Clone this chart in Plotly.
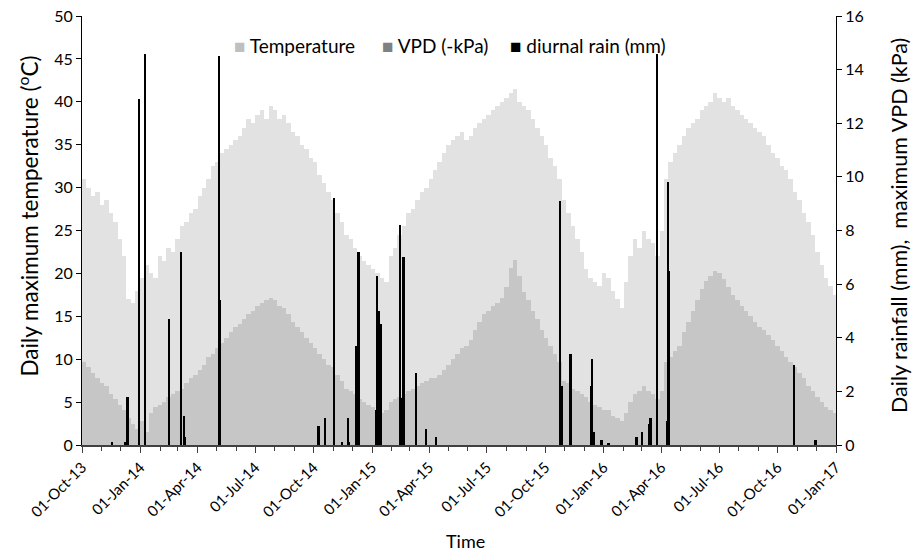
import pandas as pd
import plotly.graph_objects as go

# Weekly readings (one bar per week, starting 01-Oct-2013)
week_start = "2013-10-01"
n_weeks = 170

temperature = [
    31, 30, 29, 29.5, 28, 28.5, 27, 26, 24, 22,
    17, 16.5, 18, 19.5, 21, 20, 19.5, 22, 21.5, 23,
    22.5, 24, 25.5, 26, 27, 27.5, 29, 30, 31, 32.5,
    33, 34, 34.5, 35, 35.5, 36, 37, 38, 37.5, 38.5,
    39, 38, 39.5, 39, 38, 38.5, 37.5, 36.5, 36, 35,
    34.5, 33.5, 33, 31.5, 30.5, 29.5, 28.5, 27, 26, 24.5,
    24, 23, 22, 21.5, 21, 20.5, 20, 19.5, 19, 22,
    23, 24.5, 25.5, 27, 27.5, 28.5, 29.5, 30, 31, 32,
    33, 34, 35, 35.5, 36, 36.5, 35.5, 36, 37, 37.5,
    38, 38.5, 39, 39.5, 40, 40.5, 41, 41.5, 40, 39.5,
    39, 38, 37, 36, 35, 33.5, 32.5, 31, 28.5, 27,
    25.5, 24, 22.5, 20.5, 19.5, 19, 18.5, 20, 19.5, 18,
    17, 16, 19, 22, 24, 23, 25, 24, 23.5, 22,
    25, 31, 33, 34, 35, 36, 37, 37.5, 38, 39,
    39.5, 40, 41, 40.5, 40, 40.5, 39.5, 39, 38.5, 38,
    37.5, 37, 36.5, 36, 35, 34, 33.5, 32.5, 32, 31,
    29.5, 28.5, 27, 26, 24.5, 22.5, 21, 19.5, 18.5, 17.5,
]

vpd = [
    3.1, 2.9, 2.7, 2.5, 2.3, 2.2, 1.9, 1.7, 1.5, 1.3,
    1.0, 0.8, 0.6, 0.9, 0.5, 1.2, 1.4, 1.5, 1.6, 1.8,
    1.9, 2.0, 2.1, 2.3, 2.5, 2.6, 2.8, 3.0, 3.3, 3.4,
    3.6, 3.8, 4.0, 4.2, 4.4, 4.5, 4.7, 4.9, 5.0, 5.2,
    5.3, 5.4, 5.5, 5.4, 5.2, 5.1, 4.9, 4.6, 4.4, 4.2,
    4.0, 3.8, 3.6, 3.4, 3.2, 3.0, 2.9, 2.6, 2.4, 2.1,
    2.0, 1.9, 1.7, 1.6, 1.5, 1.4, 1.3, 1.2, 1.3, 1.6,
    1.7, 1.8, 1.9, 2.0, 2.1, 2.2, 2.3, 2.4, 2.5, 2.5,
    2.6, 2.8, 3.0, 3.2, 3.4, 3.6, 3.7, 3.9, 4.3, 4.6,
    4.9, 5.0, 5.2, 5.3, 5.5, 5.9, 6.6, 6.9, 6.3, 5.7,
    5.4, 5.0, 4.7, 4.3, 4.0, 3.7, 3.4, 3.1, 2.4, 2.3,
    2.1, 2.0, 1.9, 1.8, 1.6, 1.5, 1.4, 1.3, 1.3, 1.1,
    1.0, 0.9, 1.2, 1.6, 1.9, 2.0, 2.2, 2.0, 1.9, 1.7,
    2.0, 3.1, 3.3, 3.5, 3.7, 4.2, 4.6, 5.0, 5.4, 5.8,
    6.1, 6.3, 6.5, 6.4, 6.2, 5.9, 5.6, 5.4, 5.2, 5.0,
    4.8, 4.6, 4.4, 4.3, 4.1, 3.9, 3.7, 3.5, 3.3, 3.1,
    2.9, 2.7, 2.5, 2.2, 2.0, 1.8, 1.6, 1.4, 1.3, 1.2,
]

rain_dates = [
    "2013-11-17", "2013-12-09", "2013-12-12", "2013-12-30", "2014-01-08",
    "2014-02-15", "2014-03-07", "2014-03-11", "2014-03-13", "2014-05-05",
    "2014-05-07", "2014-10-09", "2014-10-19", "2014-11-03", "2014-11-15",
    "2014-11-24", "2014-11-26", "2014-12-08", "2014-12-11", "2015-01-08",
    "2015-01-09", "2015-01-13", "2015-01-16", "2015-02-15", "2015-02-18",
    "2015-02-20", "2015-03-11", "2015-03-28", "2015-04-12", "2015-10-25",
    "2015-10-27", "2015-11-10", "2015-12-12", "2015-12-14", "2015-12-17",
    "2015-12-29", "2016-01-09", "2016-02-22", "2016-03-02", "2016-03-13",
    "2016-03-15", "2016-03-26", "2016-04-10", "2016-04-12", "2016-04-13",
    "2016-10-27", "2016-11-30",
]
rain_mm = [
    0.1, 0.1, 1.8, 12.9, 14.6,
    4.7, 7.2, 1.1, 0.3, 14.5,
    5.4, 0.7, 1.0, 9.2, 0.1,
    1.0, 0.1, 3.7, 7.2, 1.3,
    6.3, 5.0, 4.5, 8.2, 1.75,
    7.0, 2.7, 0.6, 0.3, 9.1,
    2.2, 3.4, 2.2, 3.2, 0.5,
    0.2, 0.05, 0.3, 0.5, 0.8,
    1.0, 14.6, 0.9, 9.8, 6.5,
    3.0, 0.2,
]

legend_names = ["Temperature", "VPD (-kPa)", "diurnal rain (mm)"]
legend_colors = ["#bfbfbf", "#808080", "black"]
legend_x = [0.199, 0.395, 0.565]

weeks = pd.date_range(week_start, periods=n_weeks, freq="7D") + pd.Timedelta(hours=84)
day_ms = 86400000

fig = go.Figure()

# temperature on the left axis
fig.add_trace(go.Bar(
    x=weeks, y=temperature, width=7 * day_ms,
    marker=dict(color="#e2e2e2", line=dict(width=0)),
    showlegend=False, yaxis="y"
))

# VPD and rain on the right axis
fig.add_trace(go.Bar(
    x=weeks, y=vpd, width=7 * day_ms,
    marker=dict(color="#c6c6c6", line=dict(width=0)),
    showlegend=False, yaxis="y2"
))
fig.add_trace(go.Bar(
    x=pd.to_datetime(rain_dates), y=rain_mm, width=2.6 * day_ms,
    marker=dict(color="black", line=dict(width=0)),
    showlegend=False, yaxis="y2"
))

# legend drawn as text entries at the top of the plot
for name, col, lx in zip(legend_names, legend_colors, legend_x):
    fig.add_annotation(
        x=lx, y=0.932, xref="paper", yref="paper", xanchor="left", yanchor="middle",
        text=f"<span style='color:{col}'>■</span> {name}", showarrow=False,
        font=dict(size=19),
    )

# axis titles
fig.add_annotation(x=-0.0729, y=0.5326, xref="paper", yref="paper", textangle=-90,
                   text="Daily maximum temperature (<sup>o</sup>C)", showarrow=False,
                   xanchor="center", yanchor="middle", font=dict(size=22.5))
fig.add_annotation(x=1.0836, y=0.5105, xref="paper", yref="paper", textangle=-90,
                   text="Daily rainfall (mm),&nbsp;&nbsp;maximum VPD (kPa)", showarrow=False,
                   xanchor="center", yanchor="middle", font=dict(size=21.5))
fig.add_annotation(x=0.509, y=-0.2238, xref="paper", yref="paper",
                   text="Time", showarrow=False,
                   xanchor="center", yanchor="middle", font=dict(size=18))

font = "Lato, 'Open Sans', sans-serif"
fig.update_layout(
    width=918, height=553,
    margin=dict(l=82, r=82, t=16, b=108),
    paper_bgcolor="white", plot_bgcolor="white",
    barmode="overlay", bargap=0, showlegend=False,
    font=dict(family=font, size=16, color="black"),
    xaxis=dict(
        type="date", range=["2013-10-01", "2017-01-01"], automargin=False,
        tick0="2013-10-01", dtick="M3", tickformat="%d-%b-%y", tickangle=-45,
        ticks="outside", ticklen=6, tickcolor="#404040",
        minor=dict(dtick="M1", ticks="outside", ticklen=4, tickcolor="#404040"),
        showline=True, linecolor="#404040", linewidth=1.5, showgrid=False,
        tickfont=dict(size=15), ticklabeloverflow="allow",
    ),
    yaxis=dict(
        range=[0, 50], dtick=5, showgrid=False, zeroline=False, automargin=False,
        showline=True, linecolor="black", linewidth=1,
        ticks="outside", ticklen=5, tickcolor="black", ticklabeloverflow="allow",
    ),
    yaxis2=dict(
        range=[0, 16], dtick=2, overlaying="y", side="right", showgrid=False, zeroline=False,
        automargin=False, showline=True, linecolor="black", linewidth=1,
        ticks="outside", ticklen=5, tickcolor="black", ticklabeloverflow="allow",
    ),
)

# drop the default page margin so the figure sits at the window corner
fig.write_html("out.html", config={"displayModeBar": False},
               post_script="document.body.style.margin = '0px';")
